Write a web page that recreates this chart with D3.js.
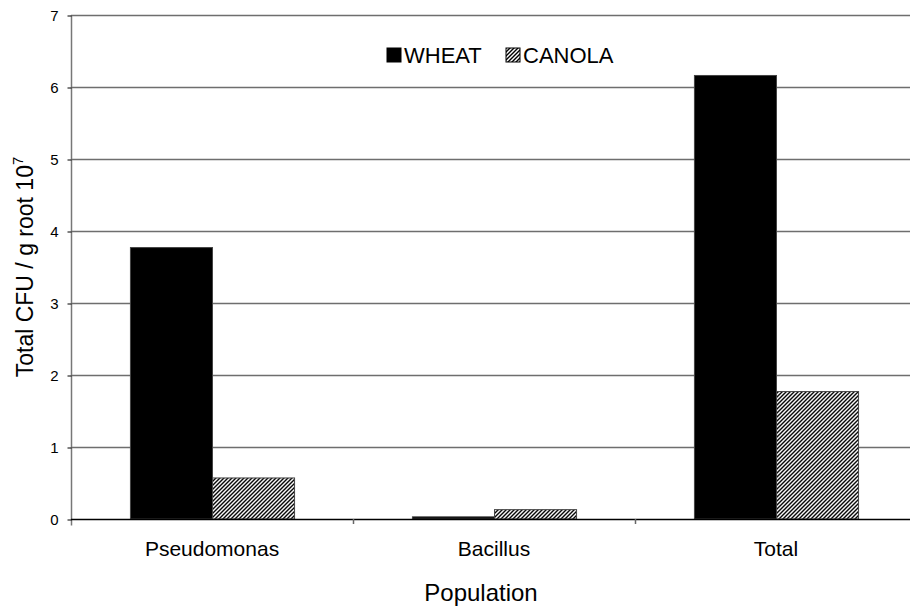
<!DOCTYPE html>
<html>
<head>
<meta charset="utf-8">
<script src="https://cdn.jsdelivr.net/npm/d3@7"></script>
<style>
  html, body { margin: 0; padding: 0; background: #fff; }
  svg { display: block; font-family: Arial, "Liberation Sans", sans-serif; }
</style>
</head>
<body>
<svg id="chart" width="910" height="608"></svg>
<script>
const categories = ["Pseudomonas", "Bacillus", "Total"];
const series = ["WHEAT", "CANOLA"];
const wheatValues = [3.77, 0.03, 6.16];
const canolaValues = [0.57, 0.13, 1.77];
const yTicks = [0, 1, 2, 3, 4, 5, 6, 7];
const yTitle = "Total CFU / g root 10";
const yTitleSup = "7";
const xTitle = "Population";

(function () {
const svg = d3.select("#chart");
const mLeft = 71, mRight = 917, mTop = 15, mBottom = 519;

const defs = svg.append("defs");
const pat = defs.append("pattern").attr("id", "hatch")
  .attr("patternUnits", "userSpaceOnUse").attr("width", 4).attr("height", 4);
pat.append("rect").attr("width", 4).attr("height", 4).attr("fill", "#fff");
pat.append("path").attr("d", "M-1,1 l2,-2 M0,4 l4,-4 M3,5 l2,-2")
  .attr("stroke", "#000").attr("stroke-width", 1.4);

const y = d3.scaleLinear().domain([0, 7]).range([mBottom, mTop]);
const x0 = d3.scaleBand().domain(categories).range([mLeft, mRight])
  .paddingInner(0.418).paddingOuter(0.209);
const x1 = d3.scaleBand().domain(series).range([0, x0.bandwidth()]);

// gridlines
svg.append("g").selectAll("line").data(yTicks.filter(d => d > 0)).join("line")
  .attr("x1", mLeft).attr("x2", 910)
  .attr("y1", d => Math.round(y(d)) + 0.5).attr("y2", d => Math.round(y(d)) + 0.5)
  .attr("stroke", "#6e6e6e").attr("stroke-width", 1.3);

// y axis
const yAxis = d3.axisLeft(y).tickValues(yTicks).tickSize(4).tickPadding(9).tickFormat(d3.format("d"));
const yg = svg.append("g").attr("transform", `translate(${mLeft + 0.5},0.5)`).call(yAxis);
yg.select(".domain").attr("stroke", "#777").attr("stroke-width", 1.5)
  .attr("d", `M0,${mTop - 0.5}V${mBottom + 6}`);
yg.selectAll(".tick line").attr("stroke", "#000");
yg.selectAll(".tick text").attr("font-size", 15).attr("fill", "#000")
  .attr("font-family", "Arial, 'Liberation Sans', sans-serif");

const data = categories.map((c, i) => ({ cat: c, vals: [
  { s: "WHEAT", v: wheatValues[i] }, { s: "CANOLA", v: canolaValues[i] } ] }));

const groups = svg.append("g").selectAll("g").data(data).join("g")
  .attr("transform", d => `translate(${x0(d.cat)},0)`);
groups.selectAll("rect").data(d => d.vals).join("rect")
  .attr("x", d => x1(d.s) + 0.5)
  .attr("y", d => y(d.v))
  .attr("width", x1.bandwidth())
  .attr("height", d => y(0) - y(d.v))
  .attr("fill", d => d.s === "WHEAT" ? "#000" : "url(#hatch)")
  .attr("stroke", "#444").attr("stroke-width", 1);

// x axis
const xAxis = d3.axisBottom(x0).tickSize(0).tickPadding(22);
const xg = svg.append("g").attr("transform", `translate(0,${mBottom + 0.5})`).call(xAxis);
xg.select(".domain").attr("stroke", "#000").attr("stroke-width", 1.3)
  .attr("d", `M${mLeft},0H910`);
xg.selectAll(".tick text").attr("font-size", 21).attr("fill", "#000")
  .attr("font-family", "Arial, 'Liberation Sans', sans-serif");
// category separators
const seps = categories.slice(1).map(c => x0(c) - x0.step() * x0.paddingInner() / 2);
svg.append("g").selectAll("line").data(seps).join("line")
  .attr("x1", d => Math.round(d) + 0.5).attr("x2", d => Math.round(d) + 0.5)
  .attr("y1", mBottom).attr("y2", mBottom + 5)
  .attr("stroke", "#666").attr("stroke-width", 1.5);

// axis titles
svg.append("text").attr("x", 481).attr("y", 601)
  .attr("text-anchor", "middle").attr("font-size", 24).text(xTitle);
const yt = svg.append("text").attr("transform", `translate(33,${(mTop + mBottom) / 2}) rotate(-90)`)
  .attr("text-anchor", "middle").attr("font-size", 23);
yt.append("tspan").text(yTitle);
yt.append("tspan").attr("font-size", 15).attr("dy", -10).text(yTitleSup);

// legend
const legend = svg.append("g").attr("transform", "translate(387,48)");
const legendX = [0, 119];
series.forEach((s, i) => {
  const g = legend.append("g").attr("transform", `translate(${legendX[i]},0)`);
  g.append("rect").attr("width", 14).attr("height", 14)
    .attr("fill", s === "WHEAT" ? "#000" : "url(#hatch)")
    .attr("stroke", "#000").attr("stroke-width", 1);
  g.append("text").attr("x", 17).attr("y", 15).attr("font-size", 22).text(s);
});
})();
</script>
</body>
</html>
